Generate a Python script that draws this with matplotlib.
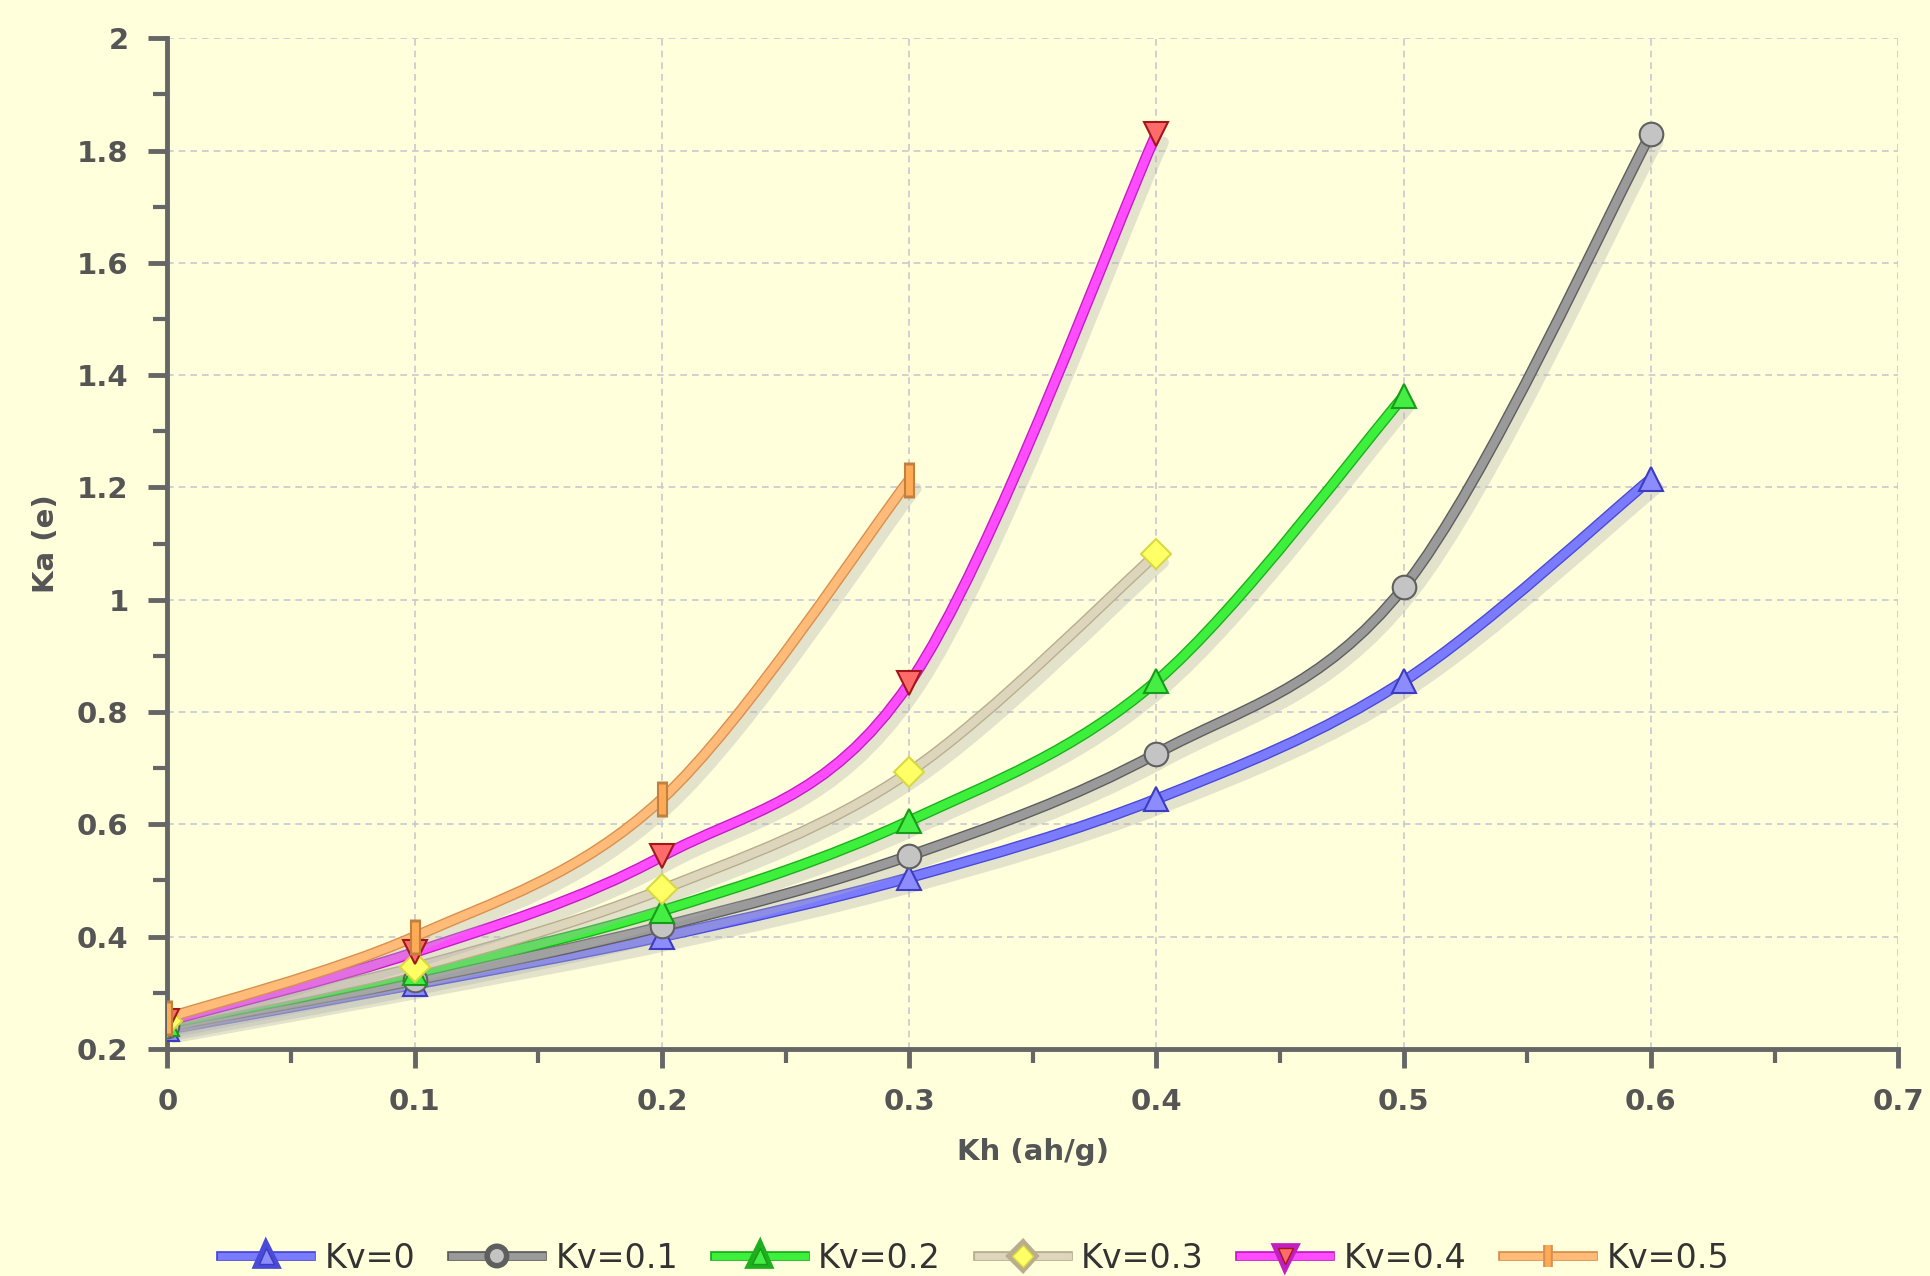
import numpy as np
import matplotlib
matplotlib.use('Agg')
import matplotlib.pyplot as plt
import matplotlib.patheffects as pe
from matplotlib.path import Path
from matplotlib.patches import PathPatch
from matplotlib.lines import Line2D
from matplotlib.ticker import MultipleLocator, FormatStrFormatter

# ---- data ----
kh = [0.0, 0.1, 0.2, 0.3, 0.4, 0.5, 0.6]
ka_kv0 = [0.235, 0.315, 0.400, 0.505, 0.645, 0.855, 1.215]
ka_kv01 = [0.240, 0.322, 0.418, 0.544, 0.726, 1.022, 1.830]
ka_kv02 = [0.245, 0.335, 0.446, 0.606, 0.855, 1.362]
ka_kv03 = [0.250, 0.345, 0.484, 0.693, 1.081]
ka_kv04 = [0.250, 0.372, 0.543, 0.851, 1.830]
ka_kv05 = [0.255, 0.400, 0.645, 1.213]

labels = ['Kv=0', 'Kv=0.1', 'Kv=0.2', 'Kv=0.3', 'Kv=0.4', 'Kv=0.5']
series = [ka_kv0, ka_kv01, ka_kv02, ka_kv03, ka_kv04, ka_kv05]

# line colour, edge colour, marker, marker face, marker edge
styles = [
    ('#7b7bff', '#4a4ad8', '^', '#8c8cff', '#3c3cc0'),
    ('#9a9a9a', '#5e5e5e', 'o', '#c4c4c4', '#606060'),
    ('#3cf03c', '#1fae1f', '^', '#44ee44', '#1a9a1a'),
    ('#ddd6bc', '#b8ae8e', 'D', '#ffff66', '#d8d840'),
    ('#ff4cff', '#c21ec2', 'v', '#ff6a6a', '#a01818'),
    ('#ffbb77', '#d89050', '|', '#ffaa55', '#c08040'),
]

BG = '#ffffdc'


def smooth_path(x, y):
    # Catmull-Rom through the points, drawn as cubic Bezier segments
    p = np.column_stack([x, y])
    ext = np.vstack([p[0], p, p[-1]])
    verts = [p[0]]
    codes = [Path.MOVETO]
    for i in range(len(p) - 1):
        p0, p1, p2, p3 = ext[i], ext[i + 1], ext[i + 2], ext[i + 3]
        c1 = p1 + (p2 - p0) / 6.0
        c2 = p2 - (p3 - p1) / 6.0
        verts += [c1, c2, p2]
        codes += [Path.CURVE4] * 3
    return Path(verts, codes)


fig = plt.figure(figsize=(19.31, 12.76), dpi=100, facecolor=BG)
ax = fig.add_axes([0.0867, 0.178, 0.8963, 0.792])
ax.set_facecolor(BG)

for vals, (lc, ec, mk, mf, me) in zip(series, styles):
    xs = kh[:len(vals)]
    patch = PathPatch(smooth_path(xs, vals), fill=False, edgecolor=lc, lw=6,
                      capstyle='round', zorder=3)
    patch.set_path_effects([
        pe.SimpleLineShadow(offset=(5, -6), shadow_color='#b0b0b0', alpha=0.35, linewidth=8),
        pe.Stroke(linewidth=8, foreground=ec),
        pe.Normal(),
    ])
    ax.add_patch(patch)
    if mk == '|':
        ax.plot(xs, vals, ls='none', marker=mk, ms=26, mew=8, color=me, zorder=4)
        ax.plot(xs, vals, ls='none', marker=mk, ms=22, mew=5, color=mf, zorder=5)
    else:
        ms = 15 if mk == 'D' else 17
        ax.plot(xs, vals, ls='none', marker=mk, ms=ms, mfc=mf, mec=me, mew=1.5, zorder=4)

ax.set_xlim(0, 0.7)
ax.set_ylim(0.2, 2.0)
ax.xaxis.set_major_locator(MultipleLocator(0.1))
ax.xaxis.set_minor_locator(MultipleLocator(0.05))
ax.yaxis.set_major_locator(MultipleLocator(0.2))
ax.yaxis.set_minor_locator(MultipleLocator(0.1))
ax.xaxis.set_major_formatter(FormatStrFormatter('%g'))
ax.yaxis.set_major_formatter(FormatStrFormatter('%g'))

for s in ['top', 'right']:
    ax.spines[s].set_visible(False)
for s in ['left', 'bottom']:
    ax.spines[s].set_color('#666666')
    ax.spines[s].set_linewidth(3.5)

ax.tick_params(which='major', length=14, width=3.5, color='#666666', pad=14,
               labelsize=21, labelcolor='#555555')
ax.tick_params(which='minor', length=10, width=3, color='#666666')
for t in ax.get_xticklabels() + ax.get_yticklabels():
    t.set_fontweight('bold')

ax.grid(True, which='major', ls=(0, (4, 3)), color='#c8c8d0', lw=1.2, zorder=1)

ax.set_xlabel('Kh (ah/g)', fontsize=21, fontweight='bold', color='#555555', labelpad=16)
ax.set_ylabel('Ka (e)', fontsize=21, fontweight='bold', color='#555555', labelpad=12)

handles = []
for lab, (lc, ec, mk, mf, me) in zip(labels, styles):
    if mk == '|':
        h = Line2D([], [], color=lc, lw=5, marker='|', ms=16, mew=4, mec=mf)
    else:
        h = Line2D([], [], color=lc, lw=5, marker=mk, ms=11, mfc=mf, mec=me)
    h.set_path_effects([pe.Stroke(linewidth=7, foreground=ec), pe.Normal()])
    handles.append(h)

leg = fig.legend(handles, labels, loc='center', bbox_to_anchor=(0.505, 0.014), ncol=6,
                 frameon=False, handlelength=2.7, columnspacing=1.1, handletextpad=0.4,
                 prop={'family': 'DejaVu Sans', 'size': 24})
for t in leg.get_texts():
    t.set_color('#333333')

fig.savefig('out.png', dpi=100, facecolor=BG)
